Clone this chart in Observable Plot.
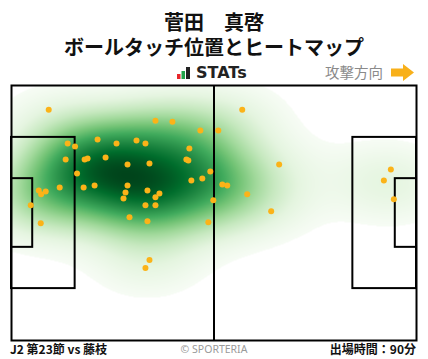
<!DOCTYPE html>
<html><head><meta charset="utf-8">
<script src="https://cdn.jsdelivr.net/npm/d3@7"></script>
<script src="https://cdn.jsdelivr.net/npm/@observablehq/plot@0.6"></script>
<style>
body{margin:0;background:#fff;}
#wrap{position:relative;width:428px;height:359px;font-family:"Noto Sans CJK JP","Noto Sans",sans-serif;overflow:hidden;}
.t{position:absolute;white-space:nowrap;}
#chart{position:absolute;left:0;top:0;}
</style></head><body>
<div id="wrap">
<div id="chart"></div>
<div class="t" style="left:0;width:428px;text-align:center;top:8.5px;font-size:20px;font-weight:700;line-height:25px;color:#111;">菅田　真啓<br>ボールタッチ位置とヒートマップ</div>
<svg class="t" style="left:176px;top:66px;" width="16" height="14"><rect x="1" y="8" width="3.5" height="5" fill="#e8262b"/><rect x="5.5" y="5" width="3.5" height="8" fill="#22a34a"/><rect x="10" y="1" width="4" height="12" fill="#222"/></svg>
<div class="t" style="left:196px;top:63px;font-family:'DejaVu Sans',sans-serif;font-size:16px;font-weight:700;line-height:20px;color:#222;">STATs</div>
<div class="t" style="left:325px;top:62px;font-size:14.5px;line-height:20px;color:#8a8a8a;">攻撃方向</div>
<svg class="t" style="left:390px;top:63px;" width="26" height="19"><path d="M1,5.5 H13 V1 L24,9.5 L13,18 V13.5 H1 Z" fill="#f8b01a"/></svg>
<div class="t" style="left:10px;top:340px;font-size:12px;font-weight:700;line-height:18px;color:#111;">J2 第23節 vs 藤枝</div>
<div class="t" style="left:0;width:428px;text-align:center;top:340px;font-family:'Noto Sans',sans-serif;font-size:10.5px;line-height:18px;color:#9a9a9a;">© SPORTERIA</div>
<div class="t" style="right:12px;top:340px;font-size:12px;font-weight:700;line-height:18px;color:#111;">出場時間：90分</div>
</div>
<script>
// Ball touch positions in metres (pitch 105 x 68, y measured from the top touchline)
const touchX = [9.65,37.32,41.72,48.96,14.56,16.47,22.32,27.23,32.41,34.73,46.11,14.04,18.96,19.73,24.39,30.08,35.77,45.34,45.85,51.54,16.99,46.63,49.47,7.06,7.68,8.87,12.49,18.70,21.54,30.08,29.56,29.04,35.25,38.35,37.32,34.73,37.32,4.99,52.32,30.59,35.25,7.58,51.03,35.77,34.73,59.82,53.61,69.39,54.65,55.94,61.11,67.32,98.35,96.54,99.13];
const touchY = [6.45,9.38,9.64,12.03,15.49,16.28,14.42,15.49,14.69,15.49,16.81,19.74,19.74,19.47,19.21,21.06,20.80,19.74,20.00,22.92,23.46,25.31,24.78,27.97,29.03,28.24,27.17,27.17,26.64,26.64,28.50,30.10,27.97,28.77,29.83,31.95,31.95,31.95,30.63,35.14,36.20,36.74,36.47,46.56,48.69,6.45,12.03,21.06,26.38,26.64,29.03,33.55,22.39,25.31,30.36];
// Pitch markings (metres)
const pitchLen = 105, pitchWid = 68;
const boxes = [
  {x1: 0, x2: 16.5, y1: 13.84, y2: 54.16},
  {x1: 0, x2: 5.5, y1: 24.84, y2: 43.16},
  {x1: 88.5, x2: 105, y1: 13.84, y2: 54.16},
  {x1: 99.5, x2: 105, y1: 24.84, y2: 43.16}
];
const halfway = [{x: 52.5}];
const greens = ["#ffffff", ...d3.schemeGreens[9]];
const bwPct = 10.5; // kernel bandwidth in % of pitch length / width

const touches = touchX.map((x, i) => ({x, y: touchY[i]}));

// Gaussian KDE, isotropic in pitch-percentage units
const n = touches.length;
const hx = bwPct / 100 * pitchLen, hy = bwPct / 100 * pitchWid;
const norm = 1 / (n * 2 * Math.PI * hx * hy);
function kde(x, y) {
  let s = 0;
  for (const p of touches) {
    const dx = (x - p.x) / hx, dy = (y - p.y) / hy;
    s += Math.exp(-0.5 * (dx*dx + dy*dy));
  }
  return s * norm;
}
// Iso-proportion threshold (5% of mass left out), evaluated on an extended grid
const gx0 = d3.min(touchX) - 3*hx, gx1 = d3.max(touchX) + 3*hx;
const gy0 = d3.min(touchY) - 3*hy, gy1 = d3.max(touchY) + 3*hy;
const G = 200, vals = [];
for (let i = 0; i < G; i++) for (let j = 0; j < G; j++)
  vals.push(kde(gx0 + (gx1-gx0)*i/(G-1), gy0 + (gy1-gy0)*j/(G-1)));
vals.sort((a, b) => b - a);
const total = d3.sum(vals);
let acc = 0, level = vals[vals.length-1];
for (const v of vals) { acc += v; if (acc / total >= 0.95) { level = v; break; } }
const dmax = vals[0];
const stops = d3.range(9).map(i => level + (dmax - level) * i / 8);

const heat = typeof Plot.raster === "function"
  ? Plot.raster({x1: 0, x2: pitchLen, y1: 0, y2: pitchWid, fill: (x, y) => { const d = kde(x, y); return d >= level ? d : 0; }, imageRendering: "auto"})
  : Plot.density(touches, {x: "x", y: "y", fill: "density", bandwidth: 30, thresholds: 40, clip: true});

const chart = Plot.plot({
  width: 428, height: 359,
  marginTop: 85, marginBottom: 19, marginLeft: 11, marginRight: 12,
  x: {domain: [0, pitchLen], axis: null},
  y: {domain: [0, pitchWid], reverse: true, axis: null},
  color: {type: "linear", domain: [0, ...stops], range: greens, clamp: true},
  style: {background: "transparent"},
  marks: [
    heat,
    Plot.rect(boxes, {x1: "x1", x2: "x2", y1: "y1", y2: "y2", stroke: "#000", strokeWidth: 2, fill: "none"}),
    Plot.ruleX(halfway, {x: "x", stroke: "#000", strokeWidth: 2}),
    Plot.frame({stroke: "#000", strokeWidth: 2}),
    Plot.dot(touches, {x: "x", y: "y", r: 3, fill: "#fbb318", stroke: "none"})
  ]
});
document.getElementById("chart").appendChild(chart);
</script>
</body></html>
